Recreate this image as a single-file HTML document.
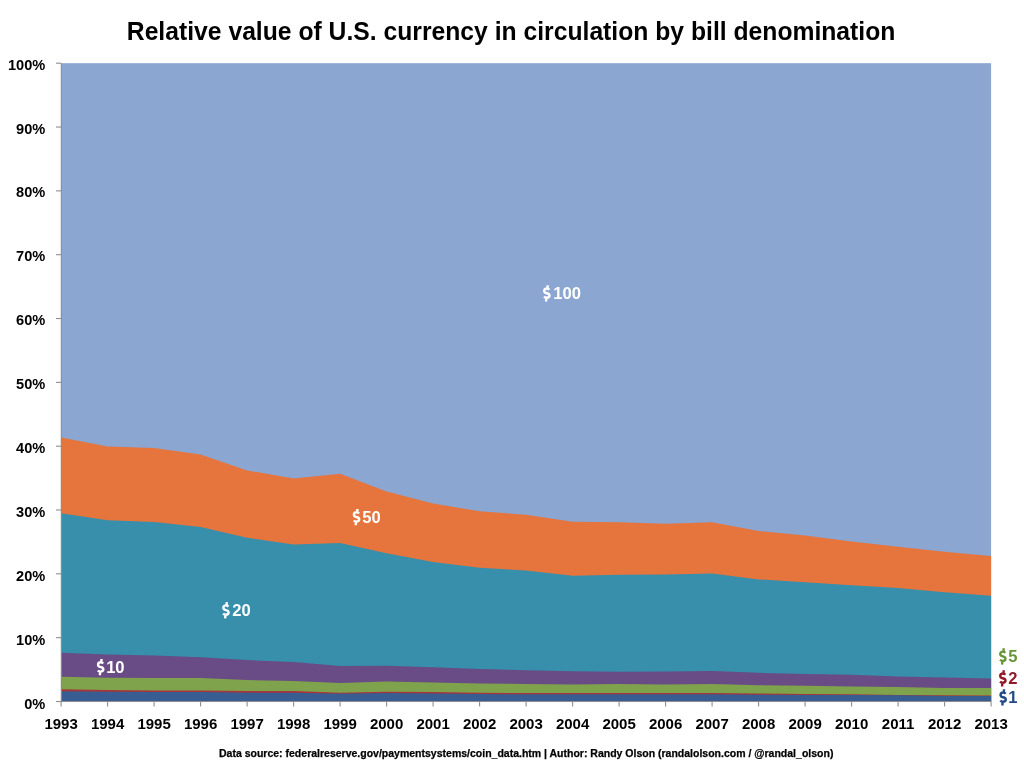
<!DOCTYPE html>
<html><head><meta charset="utf-8"><title>Relative value of U.S. currency in circulation by bill denomination</title>
<style>
html,body{margin:0;padding:0;background:#fff;width:1024px;height:768px;overflow:hidden;}
svg{display:block;will-change:transform;}
</style></head><body>
<svg width="1024" height="768" viewBox="0 0 1024 768">
<rect x="61.1" y="63.2" width="930.00" height="638.30" fill="#8aa6d1"/>
<polygon points="61.10,437.60 107.60,446.40 154.10,448.10 200.60,454.60 247.10,470.40 293.60,478.60 340.10,473.70 386.60,491.40 433.10,503.40 479.60,511.30 526.10,514.80 572.60,521.80 619.10,522.30 665.60,523.70 712.10,522.20 758.60,531.00 805.10,535.40 851.60,541.40 898.10,546.80 944.60,551.80 991.10,556.10 991.10,701.5 61.10,701.5" fill="#e6753d"/>
<polygon points="61.10,513.20 107.60,520.20 154.10,522.00 200.60,527.00 247.10,537.80 293.60,544.50 340.10,543.00 386.60,553.20 433.10,562.00 479.60,567.80 526.10,570.50 572.60,575.70 619.10,574.80 665.60,574.40 712.10,573.50 758.60,579.40 805.10,582.30 851.60,585.20 898.10,588.10 944.60,592.30 991.10,595.80 991.10,701.5 61.10,701.5" fill="#378fab"/>
<polygon points="61.10,652.70 107.60,654.60 154.10,655.60 200.60,657.20 247.10,660.10 293.60,662.10 340.10,666.00 386.60,665.80 433.10,667.30 479.60,668.90 526.10,670.30 572.60,671.30 619.10,671.80 665.60,671.60 712.10,670.90 758.60,672.80 805.10,673.90 851.60,674.70 898.10,676.50 944.60,677.60 991.10,678.50 991.10,701.5 61.10,701.5" fill="#694b85"/>
<polygon points="61.10,676.70 107.60,677.70 154.10,678.10 200.60,678.10 247.10,680.00 293.60,681.00 340.10,683.00 386.60,681.60 433.10,682.40 479.60,683.40 526.10,684.00 572.60,684.50 619.10,684.10 665.60,684.50 712.10,684.00 758.60,685.30 805.10,685.70 851.60,686.40 898.10,687.00 944.60,688.10 991.10,688.10 991.10,701.5 61.10,701.5" fill="#7fa24c"/>
<polygon points="61.10,689.20 107.60,690.00 154.10,690.40 200.60,690.40 247.10,691.00 293.60,690.90 340.10,692.70 386.60,691.80 433.10,692.10 479.60,692.70 526.10,693.10 572.60,693.10 619.10,693.10 665.60,693.10 712.10,692.90 758.60,693.50 805.10,693.90 851.60,694.20 898.10,694.90 944.60,695.30 991.10,695.50 991.10,701.5 61.10,701.5" fill="#a6363a"/>
<polygon points="61.10,691.20 107.60,691.80 154.10,692.00 200.60,692.10 247.10,692.70 293.60,692.70 340.10,693.70 386.60,693.10 433.10,693.50 479.60,694.10 526.10,694.30 572.60,694.30 619.10,694.30 665.60,694.30 712.10,694.30 758.60,694.70 805.10,694.90 851.60,694.90 898.10,695.30 944.60,696.00 991.10,696.00 991.10,701.5 61.10,701.5" fill="#385d92"/>
<g stroke="#8e8e8e" stroke-width="1.1" fill="none"><line x1="61.3" y1="63.2" x2="61.3" y2="701.5" /><line x1="61.1" y1="701.5" x2="991.10" y2="701.5" /><line x1="56" y1="701.50" x2="61.1" y2="701.50" /><line x1="56" y1="637.67" x2="61.1" y2="637.67" /><line x1="56" y1="573.84" x2="61.1" y2="573.84" /><line x1="56" y1="510.01" x2="61.1" y2="510.01" /><line x1="56" y1="446.18" x2="61.1" y2="446.18" /><line x1="56" y1="382.35" x2="61.1" y2="382.35" /><line x1="56" y1="318.52" x2="61.1" y2="318.52" /><line x1="56" y1="254.69" x2="61.1" y2="254.69" /><line x1="56" y1="190.86" x2="61.1" y2="190.86" /><line x1="56" y1="127.03" x2="61.1" y2="127.03" /><line x1="56" y1="63.20" x2="61.1" y2="63.20" /><line x1="61.10" y1="701.5" x2="61.10" y2="706.5" /><line x1="107.60" y1="701.5" x2="107.60" y2="706.5" /><line x1="154.10" y1="701.5" x2="154.10" y2="706.5" /><line x1="200.60" y1="701.5" x2="200.60" y2="706.5" /><line x1="247.10" y1="701.5" x2="247.10" y2="706.5" /><line x1="293.60" y1="701.5" x2="293.60" y2="706.5" /><line x1="340.10" y1="701.5" x2="340.10" y2="706.5" /><line x1="386.60" y1="701.5" x2="386.60" y2="706.5" /><line x1="433.10" y1="701.5" x2="433.10" y2="706.5" /><line x1="479.60" y1="701.5" x2="479.60" y2="706.5" /><line x1="526.10" y1="701.5" x2="526.10" y2="706.5" /><line x1="572.60" y1="701.5" x2="572.60" y2="706.5" /><line x1="619.10" y1="701.5" x2="619.10" y2="706.5" /><line x1="665.60" y1="701.5" x2="665.60" y2="706.5" /><line x1="712.10" y1="701.5" x2="712.10" y2="706.5" /><line x1="758.60" y1="701.5" x2="758.60" y2="706.5" /><line x1="805.10" y1="701.5" x2="805.10" y2="706.5" /><line x1="851.60" y1="701.5" x2="851.60" y2="706.5" /><line x1="898.10" y1="701.5" x2="898.10" y2="706.5" /><line x1="944.60" y1="701.5" x2="944.60" y2="706.5" /><line x1="991.10" y1="701.5" x2="991.10" y2="706.5" /></g>
<g font-family="Liberation Sans, sans-serif" font-weight="bold" font-size="14.6" fill="#000"><text x="45.3" y="709.00" text-anchor="end">0%</text><text x="45.3" y="645.06" text-anchor="end">10%</text><text x="45.3" y="581.12" text-anchor="end">20%</text><text x="45.3" y="517.18" text-anchor="end">30%</text><text x="45.3" y="453.24" text-anchor="end">40%</text><text x="45.3" y="389.30" text-anchor="end">50%</text><text x="45.3" y="325.36" text-anchor="end">60%</text><text x="45.3" y="261.42" text-anchor="end">70%</text><text x="45.3" y="197.48" text-anchor="end">80%</text><text x="45.3" y="133.54" text-anchor="end">90%</text><text x="45.3" y="69.60" text-anchor="end">100%</text></g>
<g font-family="Liberation Sans, sans-serif" font-weight="bold" font-size="15" fill="#000"><text x="61.10" y="729.2" text-anchor="middle">1993</text><text x="107.60" y="729.2" text-anchor="middle">1994</text><text x="154.10" y="729.2" text-anchor="middle">1995</text><text x="200.60" y="729.2" text-anchor="middle">1996</text><text x="247.10" y="729.2" text-anchor="middle">1997</text><text x="293.60" y="729.2" text-anchor="middle">1998</text><text x="340.10" y="729.2" text-anchor="middle">1999</text><text x="386.60" y="729.2" text-anchor="middle">2000</text><text x="433.10" y="729.2" text-anchor="middle">2001</text><text x="479.60" y="729.2" text-anchor="middle">2002</text><text x="526.10" y="729.2" text-anchor="middle">2003</text><text x="572.60" y="729.2" text-anchor="middle">2004</text><text x="619.10" y="729.2" text-anchor="middle">2005</text><text x="665.60" y="729.2" text-anchor="middle">2006</text><text x="712.10" y="729.2" text-anchor="middle">2007</text><text x="758.60" y="729.2" text-anchor="middle">2008</text><text x="805.10" y="729.2" text-anchor="middle">2009</text><text x="851.60" y="729.2" text-anchor="middle">2010</text><text x="898.10" y="729.2" text-anchor="middle">2011</text><text x="944.60" y="729.2" text-anchor="middle">2012</text><text x="991.10" y="729.2" text-anchor="middle">2013</text></g>
<g font-family="Liberation Sans, sans-serif" font-weight="bold" font-size="16.6"><path d="M 549.39 289.71 C 548.69 288.87 547.88 288.50 546.91 288.50 C 545.18 288.50 544.26 289.52 544.26 290.92 C 544.26 292.41 545.45 292.87 546.80 293.24 C 548.31 293.62 549.50 294.27 549.50 295.57 C 549.50 297.06 548.42 297.80 546.69 297.80 C 545.61 297.80 544.64 297.33 543.99 296.68 M 547.70 285.20 L 547.55 287.90 M 546.25 298.40 L 546.10 301.50" fill="none" stroke="#fff" stroke-width="2.4" stroke-linecap="butt"/><text x="581.00" y="299.00" text-anchor="end" fill="#fff">100</text><path d="M 359.09 513.51 C 358.39 512.67 357.58 512.30 356.61 512.30 C 354.88 512.30 353.96 513.32 353.96 514.72 C 353.96 516.21 355.15 516.67 356.50 517.04 C 358.01 517.41 359.20 518.07 359.20 519.37 C 359.20 520.86 358.12 521.60 356.39 521.60 C 355.31 521.60 354.34 521.13 353.69 520.48 M 357.40 509.00 L 357.25 511.70 M 355.95 522.20 L 355.80 525.30" fill="none" stroke="#fff" stroke-width="2.4" stroke-linecap="butt"/><text x="380.70" y="522.80" text-anchor="end" fill="#fff">50</text><path d="M 228.49 606.61 C 227.79 605.77 226.98 605.40 226.01 605.40 C 224.28 605.40 223.36 606.42 223.36 607.82 C 223.36 609.31 224.55 609.77 225.90 610.14 C 227.41 610.51 228.60 611.17 228.60 612.47 C 228.60 613.96 227.52 614.70 225.79 614.70 C 224.71 614.70 223.74 614.24 223.09 613.58 M 226.80 602.10 L 226.65 604.80 M 225.35 615.30 L 225.20 618.40" fill="none" stroke="#fff" stroke-width="2.4" stroke-linecap="butt"/><text x="250.70" y="615.90" text-anchor="end" fill="#fff">20</text><path d="M 103.19 663.51 C 102.49 662.67 101.68 662.30 100.71 662.30 C 98.98 662.30 98.06 663.32 98.06 664.72 C 98.06 666.21 99.25 666.67 100.60 667.04 C 102.11 667.41 103.30 668.07 103.30 669.37 C 103.30 670.86 102.22 671.60 100.49 671.60 C 99.41 671.60 98.44 671.13 97.79 670.48 M 101.50 659.00 L 101.35 661.70 M 100.05 672.20 L 99.90 675.30" fill="none" stroke="#fff" stroke-width="2.4" stroke-linecap="butt"/><text x="124.60" y="672.80" text-anchor="end" fill="#fff">10</text><path d="M 1005.39 652.81 C 1004.69 651.97 1003.88 651.60 1002.91 651.60 C 1001.18 651.60 1000.26 652.62 1000.26 654.02 C 1000.26 655.51 1001.45 655.97 1002.80 656.34 C 1004.31 656.72 1005.50 657.37 1005.50 658.67 C 1005.50 660.16 1004.42 660.90 1002.69 660.90 C 1001.61 660.90 1000.64 660.44 999.99 659.78 M 1003.70 648.30 L 1003.55 651.00 M 1002.25 661.50 L 1002.10 664.60" fill="none" stroke="#66963a" stroke-width="2.4" stroke-linecap="butt"/><text x="1017.60" y="662.10" text-anchor="end" fill="#66963a">5</text><path d="M 1005.39 674.71 C 1004.69 673.87 1003.88 673.50 1002.91 673.50 C 1001.18 673.50 1000.26 674.52 1000.26 675.92 C 1000.26 677.41 1001.45 677.87 1002.80 678.24 C 1004.31 678.62 1005.50 679.27 1005.50 680.57 C 1005.50 682.06 1004.42 682.80 1002.69 682.80 C 1001.61 682.80 1000.64 682.34 999.99 681.68 M 1003.70 670.20 L 1003.55 672.90 M 1002.25 683.40 L 1002.10 686.50" fill="none" stroke="#911928" stroke-width="2.4" stroke-linecap="butt"/><text x="1017.50" y="684.00" text-anchor="end" fill="#911928">2</text><path d="M 1005.69 693.71 C 1004.99 692.87 1004.18 692.50 1003.21 692.50 C 1001.48 692.50 1000.56 693.52 1000.56 694.92 C 1000.56 696.41 1001.75 696.87 1003.10 697.24 C 1004.61 697.62 1005.80 698.27 1005.80 699.57 C 1005.80 701.06 1004.72 701.80 1002.99 701.80 C 1001.91 701.80 1000.94 701.34 1000.29 700.68 M 1004.00 689.20 L 1003.85 691.90 M 1002.55 702.40 L 1002.40 705.50" fill="none" stroke="#234b87" stroke-width="2.4" stroke-linecap="butt"/><text x="1017.50" y="703.00" text-anchor="end" fill="#234b87">1</text></g>
<text transform="translate(126.8,40) scale(0.9884,1)" x="0" y="0" font-family="Liberation Sans, sans-serif" font-weight="bold" font-size="25" fill="#000">Relative value of U.S. currency in circulation by bill denomination</text>
<text x="526.2" y="756.8" text-anchor="middle" font-family="Liberation Sans, sans-serif" font-weight="bold" font-size="10.5" fill="#000" stroke="#000" stroke-width="0.25">Data source: federalreserve.gov/paymentsystems/coin_data.htm | Author: Randy Olson (randalolson.com / @randal_olson)</text>
</svg>
</body></html>
